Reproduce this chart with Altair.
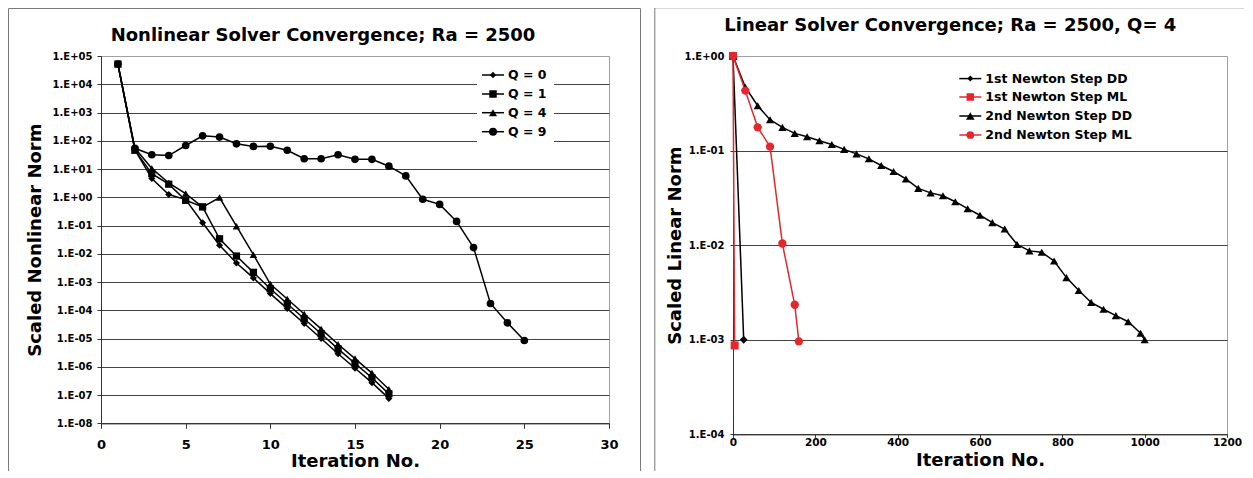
import altair as alt
import pandas as pd

FONT = "DejaVu Sans"

# ---------------- Left panel data ----------------
left_title = "Nonlinear Solver Convergence; Ra = 2500"
left_series = ["Q = 0", "Q = 1", "Q = 4", "Q = 9"]
left_shapes = ["diamond", "square", "triangle-up", "circle"]
left_sizes = [50, 70, 80, 80]

q0_iter = list(range(1, 18))
q0_norm = [5.0e4, 48, 4.6, 1.25, 0.83, 0.125, 0.02, 0.0047, 0.0014, 3.9e-4,
           1.15e-4, 3.4e-5, 1.0e-5, 2.9e-6, 8.9e-7, 2.75e-7, 7.6e-8]
q1_iter = list(range(1, 18))
q1_norm = [5.2e4, 46, 6.9, 2.9, 0.78, 0.46, 0.034, 0.0083, 0.0022, 5.75e-4,
           1.7e-4, 5.0e-5, 1.48e-5, 4.3e-6, 1.32e-6, 4.1e-7, 1.1e-7]
q4_iter = list(range(1, 18))
q4_norm = [5.2e4, 55, 10.5, 3.2, 1.35, 0.45, 0.98, 0.095, 0.0093, 8.5e-4,
           2.5e-4, 7.4e-5, 2.2e-5, 6.3e-6, 1.95e-6, 6.0e-7, 1.6e-7]
q9_iter = list(range(1, 26))
q9_norm = [5.2e4, 54, 32, 30, 68, 149, 135, 78, 63, 64, 46, 23, 23, 32, 22, 22,
           12.6, 5.7, 0.85, 0.56, 0.14, 0.0166, 1.74e-4, 3.6e-5, 8.5e-6]

left_xticks = [0, 5, 10, 15, 20, 25, 30]
left_yticks = [1e-8, 1e-7, 1e-6, 1e-5, 1e-4, 1e-3, 1e-2, 1e-1, 1e0, 1e1, 1e2, 1e3, 1e4, 1e5]

# ---------------- Right panel data ----------------
right_title = "Linear Solver Convergence; Ra = 2500, Q= 4"
right_series = ["1st Newton Step DD", "1st Newton Step ML", "2nd Newton Step DD", "2nd Newton Step ML"]
right_shapes = ["diamond", "square", "triangle-up", "circle"]
right_colors = ["#000000", "#e3272d", "#000000", "#e3272d"]
right_sizes = [45, 70, 95, 75]

dd1_iter = [0, 26]
dd1_norm = [1.0, 1.0e-3]
ml1_iter = [0, 4]
ml1_norm = [1.0, 8.7e-4]
dd2_iter = [0, 30, 60, 90, 120, 150, 180, 210, 240, 270, 300, 330, 360, 390, 420, 450,
            480, 510, 540, 570, 600, 630, 660, 690, 720, 750, 780, 810, 840, 870, 900,
            930, 960, 990, 1000]
dd2_norm = [1.0, 0.468, 0.298, 0.212, 0.176, 0.152, 0.140, 0.127, 0.116, 0.103, 0.0923,
            0.0818, 0.0695, 0.0601, 0.0501, 0.0398, 0.0357, 0.0333, 0.0288, 0.0243, 0.0207,
            0.0173, 0.0148, 0.0102, 0.0087, 0.0084, 0.0068, 0.00454, 0.00331, 0.00248,
            0.0021, 0.0018, 0.00155, 0.00117, 0.001]
ml2_iter = [0, 30, 60, 90, 120, 150, 160]
ml2_norm = [1.0, 0.43, 0.176, 0.110, 0.0104, 0.00234, 9.6e-4]

right_xticks = [0, 200, 400, 600, 800, 1000, 1200]
right_yticks = [1e-4, 1e-3, 1e-2, 1e-1, 1e0]


def series_table(names, xs_list, ys_list):
    rows = []
    for name, xs, ys in zip(names, xs_list, ys_list):
        for x, y in zip(xs, ys):
            rows.append({"series": name, "iter": x, "norm": y})
    return pd.DataFrame(rows)


def exp_label():
    e = "round(log(datum.value)/LN10)"
    return f"'1.E' + ({e} < 0 ? '-' : '+') + (abs({e}) < 10 ? '0' : '') + abs({e})"


def legend_layers(names, shapes, colors, sizes, x0, x1, xt, ys):
    layers = []
    for name, shp, col, sz, yy in zip(names, shapes, colors, sizes, ys):
        b = alt.Chart(pd.DataFrame({"label": [name]}))
        layers.append(b.mark_rule(color=col, strokeWidth=1.5).encode(
            x=alt.value(x0), x2=alt.value(x1), y=alt.value(yy)))
        layers.append(b.mark_point(filled=True, opacity=1, color=col, shape=shp, size=sz * 0.8).encode(
            x=alt.value((x0 + x1) / 2), y=alt.value(yy)))
        layers.append(b.mark_text(font=FONT, fontSize=12.5, fontWeight="bold", align="left",
                                  baseline="middle", color="black").encode(
            x=alt.value(xt), y=alt.value(yy), text="label:N"))
    return layers


def deco(x, x2, y, y2, **kw):
    return alt.Chart(pd.DataFrame({"k": [0]})).mark_rect(**kw).encode(
        x=alt.value(x), x2=alt.value(x2), y=alt.value(y), y2=alt.value(y2))


def title_mark(text, x, y):
    return alt.Chart(pd.DataFrame({"t": [text]})).mark_text(
        font=FONT, fontSize=18, fontWeight="bold", align="center", baseline="alphabetic",
        color="black").encode(x=alt.value(x), y=alt.value(y), text="t:N")


# ---------------- Left panel ----------------
L_W, L_H = 508, 367.3
left_df = series_table(left_series, [q0_iter, q1_iter, q4_iter, q9_iter],
                       [q0_norm, q1_norm, q4_norm, q9_norm])

lx = alt.X("iter:Q", scale=alt.Scale(domain=[0, 30], nice=False, zero=False),
           axis=alt.Axis(values=left_xticks, grid=False, title="Iteration No.", tickSize=5,
                         labelPadding=10, labelFontSize=13, labelFlush=False, format="d",
                         titleBaseline="alphabetic", titleY=42.7))
ly = alt.Y("norm:Q", scale=alt.Scale(type="log", domain=[1e-8, 1e5], nice=False),
           axis=alt.Axis(values=left_yticks, labelExpr=exp_label(), title="Scaled Nonlinear Norm",
                         tickSize=4, labelPadding=5, labelFontSize=10, titlePadding=8,
                         labelOverlap=False, labelFlush=False,
                         gridColor={"condition": {"test": "datum.value > 99999", "value": "#a0a0a0"},
                                    "value": "#444444"}))

lbase = alt.Chart(left_df).encode(x=lx, y=ly)
left_lines = lbase.mark_line(color="black", strokeWidth=1.5).encode(
    detail=alt.Detail("series:N"))
left_points = lbase.mark_point(filled=True, opacity=1, color="black").encode(
    shape=alt.Shape("series:N", scale=alt.Scale(domain=left_series, range=left_shapes), legend=None),
    size=alt.Size("series:O", scale=alt.Scale(domain=left_series, range=left_sizes), legend=None))

left_layers = [
    deco(-92.5, 539.5, -47.5, 434, fillOpacity=0, stroke="#7a7a7a", strokeWidth=1),
    deco(376, 453, 8, 88, fill="white", strokeOpacity=0),
    title_mark(left_title, 222, -15.3),
    left_lines, left_points,
] + legend_layers(left_series, left_shapes, ["black"] * 4, left_sizes, 381, 403, 407,
                  [19, 38, 56.7, 75.7])

left = alt.layer(*left_layers).properties(width=L_W, height=L_H)

# ---------------- Right panel ----------------
R_W, R_H = 494, 378.3
right_df = series_table(right_series, [dd1_iter, ml1_iter, dd2_iter, ml2_iter],
                        [dd1_norm, ml1_norm, dd2_norm, ml2_norm])

rx = alt.X("iter:Q", scale=alt.Scale(domain=[0, 1200], nice=False, zero=False),
           axis=alt.Axis(values=right_xticks, grid=False, title="Iteration No.", tickSize=3,
                         labelPadding=0.5, labelFontSize=10.5, labelFlush=False, format="d",
                         titleBaseline="alphabetic", titleY=31))
ry = alt.Y("norm:Q", scale=alt.Scale(type="log", domain=[1e-4, 1], nice=False),
           axis=alt.Axis(values=right_yticks, labelExpr=exp_label(), title="Scaled Linear Norm",
                         tickSize=3, labelPadding=6, labelFontSize=10, titlePadding=0,
                         labelOverlap=False, labelFlush=False,
                         gridColor={"condition": {"test": "datum.value > 0.99", "value": "#a0a0a0"},
                                    "value": "#444444"}))

rcolor = alt.Color("series:N", scale=alt.Scale(domain=right_series, range=right_colors), legend=None)
rbase = alt.Chart(right_df).encode(x=rx, y=ry, color=rcolor)
right_lines = rbase.mark_line(strokeWidth=1.5)
right_points = rbase.mark_point(filled=True, opacity=1).encode(
    shape=alt.Shape("series:N", scale=alt.Scale(domain=right_series, range=right_shapes), legend=None),
    size=alt.Size("series:O", scale=alt.Scale(domain=right_series, range=right_sizes), legend=None))

right_layers = [
    deco(-78.2, 520, -48.2, 433.3, fillOpacity=0, stroke="#7a7a7a", strokeWidth=1),
    title_mark(right_title, 217.3, -25),
    right_lines, right_points,
] + legend_layers(right_series, right_shapes, right_colors, right_sizes, 226.3, 248.3, 252.3,
                  [22.6, 41, 60, 79])

right = alt.layer(*right_layers).properties(width=R_W, height=R_H)

chart = alt.hconcat(left, right, spacing=11).properties(
    padding={"left": -1, "top": -2, "right": -10, "bottom": -20}
).configure_view(stroke="#a0a0a0", strokeWidth=1).configure_axis(
    labelFont=FONT, labelFontWeight="bold", labelColor="black",
    titleFont=FONT, titleFontWeight="bold", titleFontSize=18, titleColor="black",
    domainColor="#333333", tickColor="#333333", gridWidth=1, domainWidth=1, tickWidth=1
)

chart.save("out.html", embed_options={"renderer": "svg", "actions": False})
